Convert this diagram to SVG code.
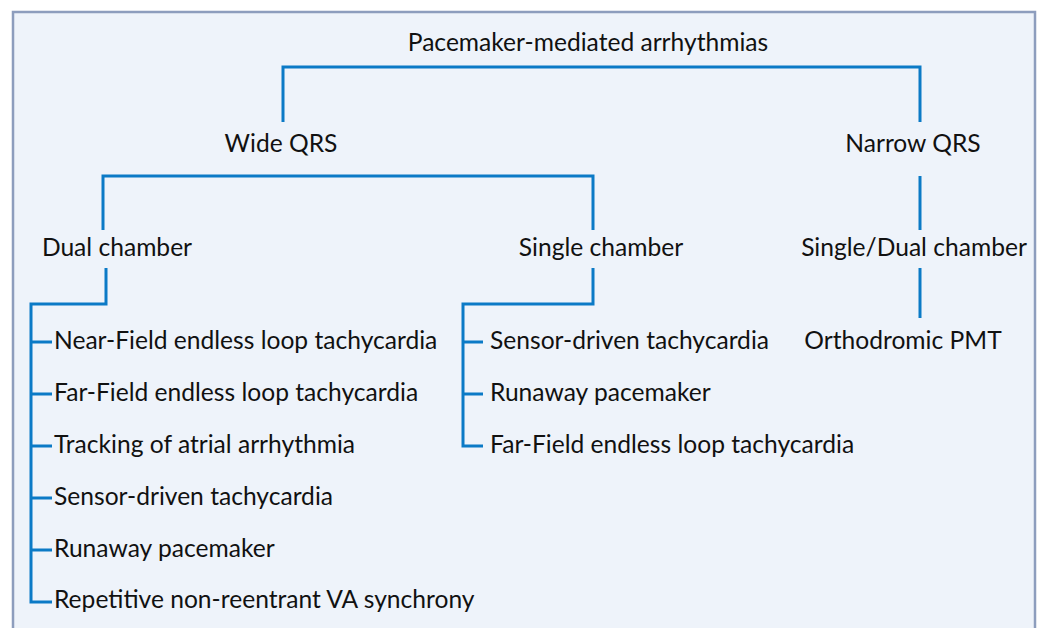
<svg xmlns="http://www.w3.org/2000/svg" width="1046" height="628" viewBox="0 0 1046 628">
<style>
text{font-family:Lato,"Liberation Sans",sans-serif;font-size:24.6px;fill:#111}
.c{text-anchor:middle}
.ln{fill:none;stroke:#0b7ac6;stroke-width:3;stroke-linejoin:miter}
</style>
<rect x="0" y="0" width="1046" height="628" fill="#ffffff"/>
<rect x="13" y="12" width="1022" height="630" fill="#eef3fa" stroke="#8d9dbd" stroke-width="2.5"/>
<g id="connectors">
<path class="ln" d="M283,122 V67 H920 V122"/>
<path class="ln" d="M103,230 V176 H593 V230"/>
<path class="ln" d="M920,176 V230"/>
<path class="ln" d="M106,268 V304 H31 V602 H52"/>
<path class="ln" d="M31,342 H52 M31,394 H52 M31,446 H52 M31,498 H52 M31,550 H52"/>
<path class="ln" d="M593,268 V304 H463 V446 H483"/>
<path class="ln" d="M463,342 H483 M463,394 H483"/>
<path class="ln" d="M920,268 V318"/>
</g>
<g id="root"><text class="c" x="588" y="51">Pacemaker-mediated arrhythmias</text></g>
<g id="wide"><text class="c" x="281" y="152">Wide QRS</text></g>
<g id="narrow"><text class="c" x="913" y="152">Narrow QRS</text></g>
<g id="dual"><text class="c" x="117" y="256">Dual chamber</text></g>
<g id="single"><text class="c" x="601" y="256">Single chamber</text></g>
<g id="singledual"><text class="c" x="914" y="256">Single/Dual chamber</text></g>
<g id="d1"><text x="54" y="349">Near-Field endless loop tachycardia</text></g>
<g id="d2"><text x="54" y="401">Far-Field endless loop tachycardia</text></g>
<g id="d3"><text x="54" y="453">Tracking of atrial arrhythmia</text></g>
<g id="d4"><text x="54" y="505">Sensor-driven tachycardia</text></g>
<g id="d5"><text x="54" y="557">Runaway pacemaker</text></g>
<g id="d6"><text x="54" y="608">Repetitive non-reentrant VA synchrony</text></g>
<g id="s1"><text x="490" y="349">Sensor-driven tachycardia</text></g>
<g id="s2"><text x="490" y="401">Runaway pacemaker</text></g>
<g id="s3"><text x="490" y="453">Far-Field endless loop tachycardia</text></g>
<g id="o1"><text class="c" x="903" y="349">Orthodromic PMT</text></g>
</svg>
